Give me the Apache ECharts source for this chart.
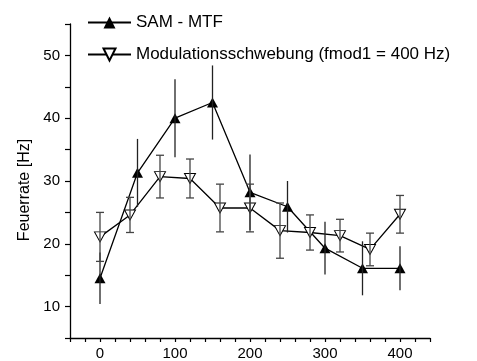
<!DOCTYPE html>
<html>
<head>
<meta charset="utf-8">
<script src="https://cdn.jsdelivr.net/npm/echarts@6/dist/echarts.min.js"></script>
<style>
  html, body { margin: 0; padding: 0; background: #fff; }
  #chart { width: 477px; height: 361px; }
</style>
</head>
<body>
<div id="chart"></div>
<script>
// SAM - MTF (filled triangles)
const samX = [0, 50, 100, 150, 200, 250, 300, 350, 400];
const samMean = [14.5, 31.3, 40.0, 42.5, 28.2, 25.9, 19.3, 16.1, 16.1];
const samErr = [4.1, 5.4, 6.2, 5.9, 6.0, 4.1, 4.2, 4.3, 3.5];

// Modulationsschwebung (open triangles)
const modX = [0, 40, 80, 120, 160, 200, 240, 280, 320, 360, 400];
const modMean = [21.1, 24.6, 30.7, 30.4, 25.7, 25.7, 22.1, 21.8, 21.3, 19.1, 24.7];
const modErr = [3.9, 2.8, 3.4, 3.1, 3.8, 3.8, 4.4, 2.8, 2.6, 2.6, 3.0];

const xLabels = [0, 100, 200, 300, 400];
const yLabels = [10, 20, 30, 40, 50];

const FONT = '"Liberation Sans", Arial, sans-serif';

const chart = echarts.init(document.getElementById('chart'));

// vertical error bars, optionally with caps
function errorBars(xs, means, errs, cap, color) {
  return {
    type: 'custom',
    silent: true,
    z: 4,
    data: xs.map((x, i) => [x, means[i] - errs[i], means[i] + errs[i]]),
    encode: { x: 0, y: [1, 2] },
    renderItem: (params, api) => {
      const lo = api.coord([api.value(0), api.value(1)]);
      const hi = api.coord([api.value(0), api.value(2)]);
      const st = { stroke: color, lineWidth: 1.3 };
      const children = [
        { type: 'line', shape: { x1: lo[0], y1: lo[1], x2: hi[0], y2: hi[1] }, style: st }
      ];
      if (cap) {
        children.push({ type: 'line', shape: { x1: lo[0] - 4, y1: lo[1], x2: lo[0] + 4, y2: lo[1] }, style: st });
        children.push({ type: 'line', shape: { x1: hi[0] - 4, y1: hi[1], x2: hi[0] + 4, y2: hi[1] }, style: st });
      }
      return { type: 'group', children };
    }
  };
}

const option = {
  animation: false,
  backgroundColor: '#fff',
  textStyle: { fontFamily: FONT, color: '#000' },
  grid: { left: 70, right: 47, top: 24, bottom: 23 },
  legend: {
    orient: 'vertical',
    left: 87,
    top: 14,
    padding: 0,
    itemWidth: 43,
    itemHeight: 15,
    itemGap: 15,
    data: ['SAM - MTF', 'Modulationsschwebung (fmod1 = 400 Hz)'],
    textStyle: { fontFamily: FONT, fontSize: 17, color: '#000' }
  },
  xAxis: {
    type: 'value',
    min: -40,
    max: 440,
    interval: 20,
    splitLine: { show: false },
    axisLine: { onZero: false, lineStyle: { color: '#000', width: 1.3 } },
    axisTick: { length: 4, lineStyle: { color: '#000', width: 1.2 } },
    axisLabel: {
      margin: 8,
      fontSize: 15,
      fontFamily: FONT,
      color: '#000',
      formatter: v => (xLabels.includes(v) ? String(v) : '')
    }
  },
  yAxis: {
    type: 'value',
    min: 5,
    max: 55,
    interval: 5,
    name: 'Feuerrate [Hz]',
    nameLocation: 'middle',
    nameGap: 36,
    nameTextStyle: { fontSize: 16, fontFamily: FONT, color: '#000', padding: [0, 18, 0, 0] },
    splitLine: { show: false },
    axisLine: { show: true, onZero: false, lineStyle: { color: '#000', width: 1.3 } },
    axisTick: { show: true, length: 5, lineStyle: { color: '#000', width: 1.2 } },
    axisLabel: {
      margin: 10,
      fontSize: 15,
      fontFamily: FONT,
      color: '#000',
      formatter: v => (yLabels.includes(v) ? String(v) : '')
    }
  },
  series: [
    errorBars(samX, samMean, samErr, false, '#222'),
    errorBars(modX, modMean, modErr, true, '#444'),
    {
      name: 'SAM - MTF',
      type: 'line',
      z: 3,
      data: samX.map((x, i) => [x, samMean[i]]),
      symbol: 'triangle',
      symbolSize: [11, 10],
      itemStyle: { color: '#000' },
      lineStyle: { color: '#000', width: 1.3 }
    },
    {
      name: 'Modulationsschwebung (fmod1 = 400 Hz)',
      type: 'line',
      z: 3,
      data: modX.map((x, i) => [x, modMean[i]]),
      symbol: 'triangle',
      symbolRotate: 180,
      symbolSize: [11, 10],
      itemStyle: { color: '#fff', borderColor: '#000', borderWidth: 1 },
      lineStyle: { color: '#000', width: 1.3 }
    }
  ]
};

chart.setOption(option);
</script>
</body>
</html>
